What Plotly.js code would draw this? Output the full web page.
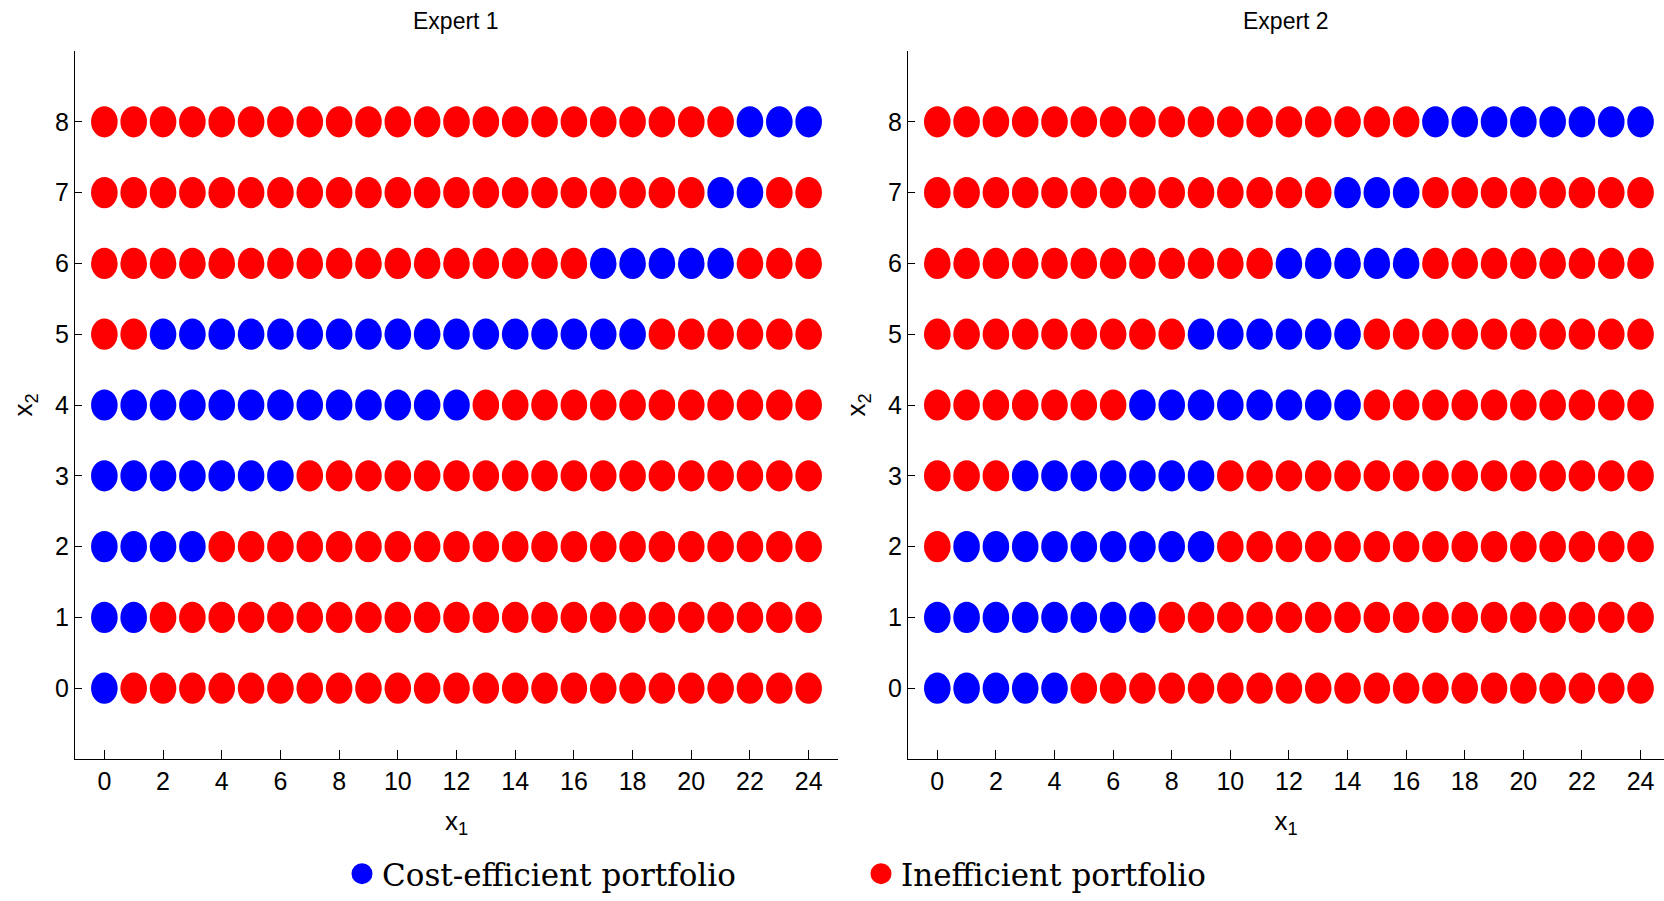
<!DOCTYPE html>
<html>
<head>
<meta charset="utf-8">
<script src="https://cdn.plot.ly/plotly-3.0.1.min.js"></script>
<style>
  html, body { margin: 0; padding: 0; background: #ffffff; }
  #chart { width: 1664px; height: 901px; }
</style>
</head>
<body>
<div id="chart"></div>
<script>
// Grid of candidate portfolios
const x1Values = [0, 1, 2, 3, 4, 5, 6, 7, 8, 9, 10, 11, 12, 13, 14, 15, 16, 17, 18, 19, 20, 21, 22, 23, 24];
const x2Values = [0, 1, 2, 3, 4, 5, 6, 7, 8];

// For each x2 level (0..8): first and last x1 of the cost-efficient run
const expert1EfficientFrom = [0, 0, 0, 0, 0, 2, 17, 21, 22];
const expert1EfficientTo   = [0, 1, 3, 6, 12, 18, 21, 22, 24];
const expert2EfficientFrom = [0, 0, 1, 3, 7, 9, 12, 14, 17];
const expert2EfficientTo   = [4, 7, 9, 9, 14, 14, 16, 16, 24];

const panelTitles = ['Expert 1', 'Expert 2'];
const xTickValues = [0, 2, 4, 6, 8, 10, 12, 14, 16, 18, 20, 22, 24];
const yTickValues = [0, 1, 2, 3, 4, 5, 6, 7, 8];
const seriesNames = ['Cost-efficient portfolio', 'Inefficient portfolio'];

const BLUE = '#0000ff';
const RED = '#ff0000';
const W = 1664, H = 901;
const sansNarrow = '"Liberation Sans Narrow", "Arial Narrow", "Liberation Sans", Arial, sans-serif';
const serif = '"DejaVu Serif", "Liberation Serif", serif';

// Ellipse half-size in pixels
const RX = 13.3, RY = 15.6;

function dotShapes(from, to, xref, yref) {
  const shapes = [];
  x2Values.forEach((x2, row) => {
    x1Values.forEach(x1 => {
      const efficient = x1 >= from[row] && x1 <= to[row];
      const c = efficient ? BLUE : RED;
      shapes.push({
        type: 'circle', xref: xref, yref: yref,
        xsizemode: 'pixel', ysizemode: 'pixel',
        xanchor: x1, yanchor: x2,
        x0: -RX, x1: RX, y0: -RY, y1: RY,
        fillcolor: c, line: { width: 0 }, layer: 'above'
      });
    });
  });
  return shapes;
}

const shapes = dotShapes(expert1EfficientFrom, expert1EfficientTo, 'x', 'y')
  .concat(dotShapes(expert2EfficientFrom, expert2EfficientTo, 'x2', 'y2'));

// Legend entries
const traces = [
  { type: 'scatter', mode: 'markers', x: [null], y: [null], name: seriesNames[0],
    marker: { color: BLUE, size: 18, symbol: 'circle', line: { color: BLUE, width: 5 } },
    xaxis: 'x', yaxis: 'y', hoverinfo: 'skip' },
  { type: 'scatter', mode: 'markers', x: [null], y: [null], name: seriesNames[1],
    marker: { color: RED, size: 18, symbol: 'circle', line: { color: RED, width: 5 } },
    xaxis: 'x', yaxis: 'y', hoverinfo: 'skip' }
];

const yDomain = [1 - 759 / H, 1 - 51 / H];

function xAxis(domain, range) {
  return {
    domain: domain, range: range,
    tickmode: 'array', tickvals: xTickValues, ticktext: xTickValues.map(String),
    ticks: 'inside', ticklen: 9, tickwidth: 1, tickcolor: '#000',
    showline: true, linecolor: '#000', linewidth: 1,
    showgrid: false, zeroline: false,
    tickfont: { family: sansNarrow, size: 25, color: '#000' },
    title: { text: 'x<sub>1</sub>', font: { family: sansNarrow, size: 26, color: '#000' }, standoff: 17 },
    fixedrange: true
  };
}
function yAxis(domain, anchor) {
  return {
    domain: domain, range: [-1, 9], anchor: anchor,
    tickmode: 'array', tickvals: yTickValues, ticktext: yTickValues.map(String),
    ticks: 'inside', ticklen: 7, tickwidth: 1, tickcolor: '#000',
    showline: true, linecolor: '#000', linewidth: 1,
    showgrid: false, zeroline: false,
    tickfont: { family: sansNarrow, size: 25, color: '#000' },
    title: { text: 'x<sub>2</sub>', font: { family: sansNarrow, size: 26, color: '#000' }, standoff: 14 },
    fixedrange: true
  };
}

const layout = {
  width: W, height: H,
  margin: { l: 0, r: 0, t: 0, b: 0, pad: 0 },
  paper_bgcolor: '#ffffff', plot_bgcolor: '#ffffff',
  showlegend: true,
  xaxis: Object.assign(xAxis([75 / W, 838 / W], [-1, 25]), { anchor: 'y' }),
  yaxis: yAxis(yDomain, 'x'),
  xaxis2: Object.assign(xAxis([908 / W, 1], [-1, 24.8]), { anchor: 'y2' }),
  yaxis2: yAxis(yDomain, 'x2'),
  shapes: shapes,
  annotations: [
    { text: panelTitles[0], xref: 'paper', yref: 'paper', x: 456 / W, y: 1 - 21 / H,
      xanchor: 'center', yanchor: 'middle', showarrow: false,
      font: { family: sansNarrow, size: 23, color: '#000' } },
    { text: panelTitles[1], xref: 'paper', yref: 'paper', x: 1286 / W, y: 1 - 21 / H,
      xanchor: 'center', yanchor: 'middle', showarrow: false,
      font: { family: sansNarrow, size: 23, color: '#000' } }
  ],
  legend: {
    orientation: 'h', x: 342 / W, y: 0, xanchor: 'left', yanchor: 'bottom',
    font: { family: serif, size: 31, color: '#000' },
    entrywidth: 474, entrywidthmode: 'pixels',
    bgcolor: 'rgba(0,0,0,0)', itemclick: false, itemdoubleclick: false
  }
};

Plotly.newPlot('chart', traces, layout, { displayModeBar: false, staticPlot: true });
</script>
</body>
</html>
